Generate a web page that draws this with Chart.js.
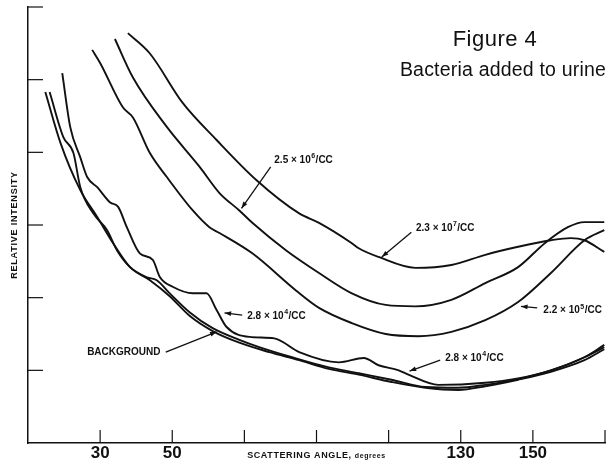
<!DOCTYPE html>
<html>
<head>
<meta charset="utf-8">
<script src="https://cdn.jsdelivr.net/npm/chart.js@4/dist/chart.umd.min.js"></script>
<style>
    html, body { margin: 0; padding: 0; background: #fff; }
    #wrap { width: 610px; height: 464px; }
</style>
</head>
<body>
<div id="wrap"><canvas id="myChart" width="610" height="464"></canvas></div>
<script>
// x axis: scattering angle (degrees), y axis: relative intensity
var xMin = 10, xMax = 170, xStep = 20;
var yMin = 0, yMax = 6, yStep = 1;
var xTickLabels = [30, 50, 130, 150];

// 2.3 x 10^7/CC
var angle23e7 = [37.7, 43.8, 52.9, 62.3, 73.3, 85.2, 90.7, 99.5, 101.7, 107.2, 117.4, 127.4, 136.8, 145.9, 155.0, 160.5, 164.3, 169.8];
var rel23e7 = [5.64, 5.36, 4.68, 4.17, 3.62, 3.16, 3.03, 2.76, 2.68, 2.56, 2.41, 2.45, 2.59, 2.70, 2.79, 2.82, 2.79, 2.63];

// 2.5 x 10^6/CC
var angle25e6 = [34.1, 39.1, 48.5, 57.6, 63.1, 68.6, 72.2, 81.6, 90.7, 99.8, 109.2, 117.4, 127.4, 136.8, 145.9, 153.3, 159.7, 164.3, 169.8];
var rel25e6 = [5.56, 5.03, 4.35, 3.80, 3.44, 3.20, 3.03, 2.65, 2.34, 2.06, 1.90, 1.88, 1.97, 2.20, 2.42, 2.75, 2.97, 3.04, 3.04];

// 2.2 x 10^5/CC
var angle22e5 = [27.8, 30.0, 36.3, 39.1, 43.8, 48.5, 55.7, 60.3, 63.1, 72.2, 84.3, 90.7, 99.8, 109.2, 118.3, 127.4, 136.8, 145.9, 155.0, 164.3, 169.8];
var rel22e5 = [5.41, 5.23, 4.62, 4.48, 3.99, 3.66, 3.20, 2.97, 2.89, 2.61, 2.10, 1.86, 1.65, 1.50, 1.47, 1.53, 1.69, 1.94, 2.34, 2.79, 2.93];

// 2.8 x 10^4/CC
var angle28e4 = [19.5, 21.7, 24.5, 26.4, 29.2, 32.8, 35.0, 37.4, 41.0, 44.6, 46.6, 50.1, 55.7, 59.5, 62.3, 65.0, 71.4, 78.3, 85.2, 96.2, 103.1, 107.2, 112.8, 115.5, 123.8, 136.8, 145.9, 155.0, 164.3, 169.8];
var rel28e4 = [5.09, 4.35, 3.93, 3.66, 3.52, 3.31, 3.25, 2.97, 2.61, 2.52, 2.28, 2.15, 2.06, 2.06, 1.83, 1.60, 1.46, 1.44, 1.25, 1.11, 1.17, 1.07, 1.00, 0.94, 0.80, 0.83, 0.89, 1.00, 1.18, 1.35];

// 2.8 x 10^4/CC, second run
var angle28e4b = [16.0, 19.8, 22.6, 24.5, 28.1, 31.9, 34.7, 38.3, 43.0, 45.7, 49.3, 54.8, 61.2, 68.6, 74.1, 83.2, 92.6, 101.7, 110.8, 120.2, 129.3, 136.8, 145.9, 155.0, 164.3, 169.8];
var rel28e4b = [4.83, 4.21, 3.99, 3.52, 3.16, 2.93, 2.65, 2.42, 2.28, 2.24, 2.06, 1.80, 1.58, 1.42, 1.32, 1.18, 1.05, 0.96, 0.87, 0.77, 0.76, 0.80, 0.88, 1.00, 1.18, 1.32];

// background
var angleBg = [14.8, 19.0, 24.5, 29.2, 33.6, 38.3, 43.8, 49.3, 54.8, 61.2, 68.6, 76.9, 85.2, 93.4, 101.7, 110.8, 120.2, 129.3, 136.8, 145.9, 155.0, 164.3, 169.8];
var relBg = [4.83, 4.13, 3.48, 3.11, 2.75, 2.42, 2.24, 2.02, 1.75, 1.54, 1.38, 1.25, 1.14, 1.02, 0.94, 0.84, 0.76, 0.73, 0.78, 0.87, 0.98, 1.14, 1.29];

// curve labels: [base, exponent, text angle, text intensity, arrow from angle, from intensity, arrow to angle, to intensity]
var curveLabels = [
    ["2.5 × 10", "6", 78.3, 3.89, 77.3, 3.80, 69.2, 3.23],
    ["2.3 × 10", "7", 117.6, 2.96, 116.3, 2.90, 108.1, 2.56],
    ["2.2 × 10", "5", 152.9, 1.82, 151.2, 1.86, 146.7, 1.88],
    ["2.8 × 10", "4", 70.8, 1.75, 69.4, 1.76, 64.5, 1.79],
    ["2.8 × 10", "4", 125.7, 1.17, 124.3, 1.14, 115.8, 0.99]
];
var bgLabel = ["BACKGROUND", 26.4, 1.25, 48.2, 1.25, 62.3, 1.53];

function toPoints(xs, ys) {
    var pts = [];
    for (var i = 0; i < xs.length; i++) {
        pts.push({x: xs[i], y: ys[i]});
    }
    return pts;
}

function makeSet(label, xs, ys) {
    return {
        label: label,
        data: toPoints(xs, ys),
        borderColor: "#111",
        borderWidth: 1.9,
        pointRadius: 0,
        cubicInterpolationMode: "monotone",
        fill: false
    };
}

function arrow(ctx, x1, y1, x2, y2) {
    var a = Math.atan2(y2 - y1, x2 - x1);
    ctx.beginPath();
    ctx.moveTo(x1, y1);
    ctx.lineTo(x2, y2);
    ctx.lineWidth = 1.3;
    ctx.stroke();
    ctx.beginPath();
    ctx.moveTo(x2, y2);
    ctx.lineTo(x2 - 7 * Math.cos(a - 0.35), y2 - 7 * Math.sin(a - 0.35));
    ctx.lineTo(x2 - 7 * Math.cos(a + 0.35), y2 - 7 * Math.sin(a + 0.35));
    ctx.closePath();
    ctx.fill();
}

var decorPlugin = {
    id: "decor",
    afterDraw: function (chart) {
        var ctx = chart.ctx;
        var sx = chart.scales.x, sy = chart.scales.y;
        var area = chart.chartArea;
        ctx.save();
        ctx.strokeStyle = "#111";
        ctx.fillStyle = "#111";
        ctx.lineWidth = 1.2;
        // inward ticks
        sx.ticks.forEach(function (t) {
            if (t.value <= xMin) return;
            var px = sx.getPixelForValue(t.value);
            ctx.beginPath();
            ctx.moveTo(px, area.bottom);
            ctx.lineTo(px, area.bottom - 13);
            ctx.stroke();
        });
        sy.ticks.forEach(function (t) {
            if (t.value <= yMin) return;
            var py = sy.getPixelForValue(t.value);
            ctx.beginPath();
            ctx.moveTo(area.left, py);
            ctx.lineTo(area.left + 15, py);
            ctx.stroke();
        });

        // axis titles
        ctx.letterSpacing = "0.8px";
        ctx.font = "bold 9px 'Liberation Sans', Arial";
        ctx.textBaseline = "middle";
        ctx.textAlign = "center";
        ctx.save();
        ctx.translate(15, (area.top + area.bottom) / 2);
        ctx.rotate(-Math.PI / 2);
        ctx.fillText("RELATIVE INTENSITY", 0, 0);
        ctx.restore();
        ctx.letterSpacing = "0.6px";
        var xt = "SCATTERING ANGLE, ";
        ctx.font = "bold 9px 'Liberation Sans', Arial";
        var w1 = ctx.measureText(xt).width;
        ctx.font = "bold 7px 'Liberation Sans', Arial";
        var w2 = ctx.measureText("degrees").width;
        var x0 = (area.left + area.right) / 2 - (w1 + w2) / 2;
        ctx.textAlign = "left";
        ctx.font = "bold 9px 'Liberation Sans', Arial";
        ctx.fillText(xt, x0, 456);
        ctx.font = "bold 7px 'Liberation Sans', Arial";
        ctx.fillText("degrees", x0 + w1, 456.5);
        ctx.letterSpacing = "0px";

        // figure title
        ctx.textAlign = "center";
        ctx.textBaseline = "alphabetic";
        ctx.letterSpacing = "0.5px";
        ctx.font = "22px 'Liberation Sans', Arial";
        ctx.fillText("Figure 4", 495, 46);
        ctx.letterSpacing = "0.2px";
        ctx.font = "19.5px 'Liberation Sans', Arial";
        ctx.fillText("Bacteria added to urine", 503, 76);
        ctx.letterSpacing = "0px";

        // curve labels
        ctx.textAlign = "left";
        ctx.textBaseline = "middle";
        curveLabels.forEach(function (l) {
            var tx = sx.getPixelForValue(l[2]), ty = sy.getPixelForValue(l[3]);
            ctx.font = "bold 10px 'Liberation Sans', Arial";
            ctx.fillText(l[0], tx, ty);
            var w = ctx.measureText(l[0]).width;
            ctx.font = "bold 7px 'Liberation Sans', Arial";
            ctx.fillText(l[1], tx + w + 0.5, ty - 4);
            var we = ctx.measureText(l[1]).width;
            ctx.font = "bold 10px 'Liberation Sans', Arial";
            ctx.fillText("/CC", tx + w + we + 1, ty);
            arrow(ctx, sx.getPixelForValue(l[4]), sy.getPixelForValue(l[5]),
                    sx.getPixelForValue(l[6]), sy.getPixelForValue(l[7]));
        });
        ctx.font = "bold 10px 'Liberation Sans', Arial";
        ctx.fillText(bgLabel[0], sx.getPixelForValue(bgLabel[1]), sy.getPixelForValue(bgLabel[2]));
        arrow(ctx, sx.getPixelForValue(bgLabel[3]), sy.getPixelForValue(bgLabel[4]),
                sx.getPixelForValue(bgLabel[5]), sy.getPixelForValue(bgLabel[6]));
        ctx.restore();
    }
};

var canvas = document.getElementById("myChart");
var mychart = new Chart(canvas, {
    type: "line",
    data: {
        datasets: [
            makeSet("2.3 x 10^7/CC", angle23e7, rel23e7),
            makeSet("2.5 x 10^6/CC", angle25e6, rel25e6),
            makeSet("2.2 x 10^5/CC", angle22e5, rel22e5),
            makeSet("2.8 x 10^4/CC", angle28e4, rel28e4),
            makeSet("2.8 x 10^4/CC", angle28e4b, rel28e4b),
            makeSet("Background", angleBg, relBg)
        ]
    },
    options: {
        responsive: false,
        animation: false,
        layout: {padding: {left: 28, top: 7, right: 5, bottom: 0}},
        plugins: {
            legend: {display: false},
            tooltip: {enabled: false},
            title: {display: false}
        },
        scales: {
            x: {
                type: "linear",
                min: xMin,
                max: xMax,
                grid: {drawOnChartArea: false, drawTicks: false},
                border: {display: true, color: "#111", width: 1.5},
                ticks: {
                    stepSize: xStep,
                    autoSkip: false,
                    maxRotation: 0,
                    padding: 1,
                    color: "#111",
                    font: {family: "'Liberation Sans', Arial", size: 17, weight: "bold", lineHeight: 1.1},
                    callback: function (v) {
                        return xTickLabels.indexOf(v) >= 0 ? String(v) : "";
                    }
                },
                afterFit: function (scale) {
                    scale.height = 21;
                }
            },
            y: {
                min: yMin,
                max: yMax,
                grid: {drawOnChartArea: false, drawTicks: false},
                border: {display: true, color: "#111", width: 1.5},
                ticks: {stepSize: yStep, display: false},
                afterFit: function (scale) {
                    scale.width = 0;
                }
            }
        }
    },
    plugins: [decorPlugin]
});
</script>
</body>
</html>
